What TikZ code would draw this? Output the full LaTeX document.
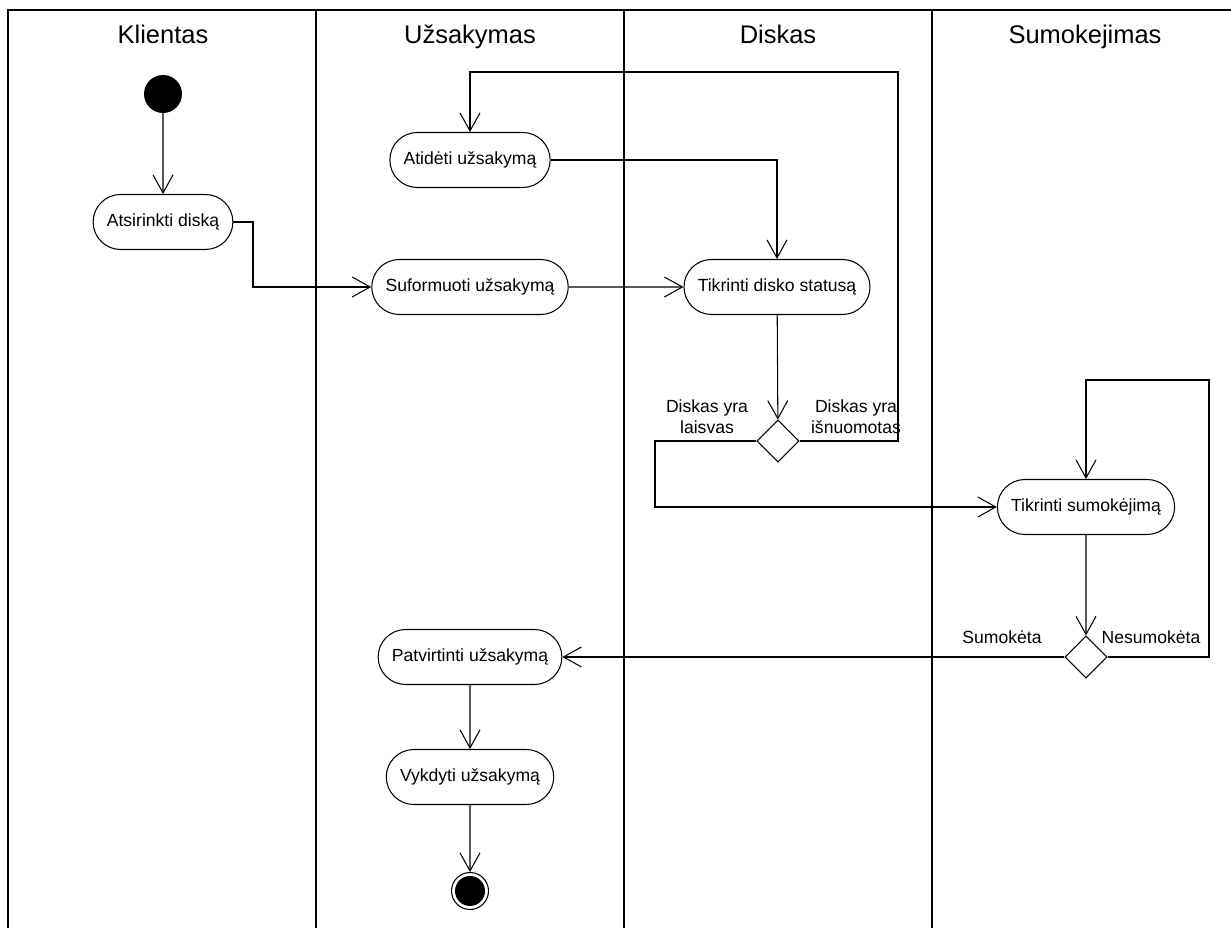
\documentclass[tikz,border=0pt]{standalone}
\usepackage{fontspec}
\setmainfont{Liberation Sans}
\usetikzlibrary{arrows.meta,shapes.misc,shapes.geometric}

\begin{document}
\begin{tikzpicture}[x=0.02cm, y=-0.02cm, line width=0.6pt,
    action/.style={draw, rounded rectangle, minimum height=1.1cm, inner xsep=0.25cm, font=\fontsize{10}{12}\selectfont},
    decision/.style={draw, diamond, minimum width=0.84cm, minimum height=0.84cm, inner sep=0pt},
    lane/.style={anchor=base, font=\fontsize{14.5}{17}\selectfont},
    guard/.style={font=\fontsize{10}{12}\selectfont, align=center},
    flow/.style={-{Straight Barb[length=3.6mm, width=4mm]}}]
      \useasboundingbox (0,0) rectangle (1231,928);

      % Swimlanes
      \draw (8,928) -- (8,10) -- (1231,10);
      \draw (316,10) -- (316,928);
      \draw (624,10) -- (624,928);
      \draw (932,10) -- (932,928);
      \node[lane] (klientas) at (163,44) {Klientas};
      \node[lane] (uzsakymas) at (470,44) {Užsakymas};
      \node[lane] (diskas) at (778,44) {Diskas};
      \node[lane] (sumokejimas) at (1085,44) {Sumokejimas};

      % Start and end
      \fill (163,94) circle (19) coordinate (start);
      \node[draw, circle, minimum size=0.74cm, inner sep=0pt] (end) at (470,891) {};
      \fill (end) circle (15);

      % Actions
      \node[action] (pasirinkti) at (163,222) {Atsirinkti diską};
      \node[action] (atideti) at (470,160) {Atidėti užsakymą};
      \node[action] (suformuoti) at (470,287) {Suformuoti užsakymą};
      \node[action] (tikrintidiska) at (777,287) {Tikrinti disko statusą};
      \node[decision] (diskasyra) at (778,441) {};
      \node[action] (tikrintimok) at (1086,507) {Tikrinti sumokėjimą};
      \node[decision] (sumoketa) at (1086,657) {};
      \node[action] (patvirtinti) at (470,657) {Patvirtinti užsakymą};
      \node[action] (vykdyti) at (470,777) {Vykdyti užsakymą};

      % Flows
      \draw[flow] (163,113) -- (pasirinkti);
      \draw[flow] (pasirinkti.east) -- (253,222) |- (suformuoti.west);
      \draw[flow] (suformuoti) -- (tikrintidiska);
      \draw[flow] (atideti.east) -| (tikrintidiska.north);
      \draw[flow] (tikrintidiska) -- (diskasyra);
      \draw[flow] (diskasyra.east) -- (898,441) -- (898,72) -| (atideti.north);
      \draw[flow] (diskasyra.west) -- (655,441) |- (tikrintimok.west);
      \draw[flow] (tikrintimok) -- (sumoketa);
      \draw[flow] (sumoketa.east) -- (1209,657) -- (1209,380) -| (tikrintimok.north);
      \draw[flow] (sumoketa.west) -- (patvirtinti.east);
      \draw[flow] (patvirtinti) -- (vykdyti);
      \draw[flow] (vykdyti) -- (end);

      % Guards
      \node[guard] (laisvas) at (707,417) {Diskas yra\\laisvas};
      \node[guard] (isnuomotas) at (856,417) {Diskas yra\\išnuomotas};
      \node[guard] (gsumoketa) at (1002,637) {Sumokėta};
      \node[guard] (nesumoketa) at (1151,637) {Nesumokėta};
    \end{tikzpicture}
\end{document}
